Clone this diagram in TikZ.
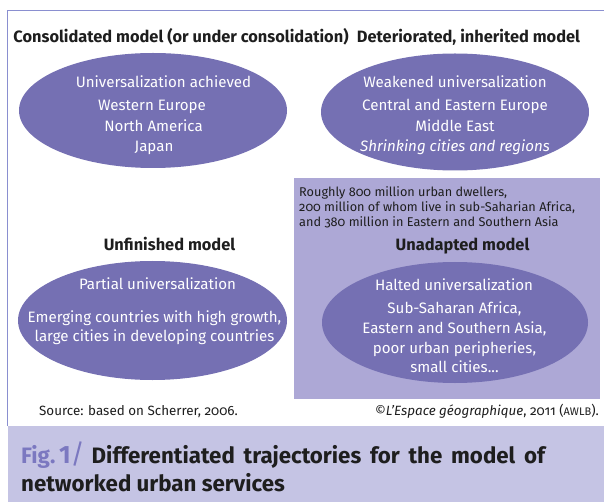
\documentclass[tikz,border=0pt]{standalone}
\usepackage{fontspec}
\setmainfont{Fira Sans}[Numbers=OldStyle]
\usetikzlibrary{shapes.geometric}
\definecolor{ellfill}{HTML}{7570B3}
\definecolor{boxfill}{HTML}{ADA8D6}
\definecolor{bandfill}{HTML}{C5C4E4}
\definecolor{frameline}{HTML}{8A8FD0}
\definecolor{figcol}{HTML}{7B78C0}
\definecolor{darktxt}{HTML}{1E1E1E}
\tikzset{
  ell/.style={ellipse, fill=ellfill, draw=none, inner sep=0pt},
  titletxt/.style={anchor=base, inner sep=0pt, font=\fontsize{16.4}{19}\selectfont\bfseries, text=darktxt},
  etxt/.style={anchor=base, inner sep=0pt, font=\fontsize{15.1}{18}\selectfont, text=white},
  notetxt/.style={anchor=base west, inner sep=0pt, font=\fontsize{12.7}{15}\selectfont, text=darktxt},
  srctxt/.style={anchor=base, inner sep=0pt, font=\fontsize{13.4}{16}\selectfont, text=darktxt},
  captxt/.style={anchor=base west, inner sep=0pt, font=\fontsize{22.3}{26}\selectfont\bfseries, text=darktxt},
}
\begin{document}
\begin{tikzpicture}[x=1pt,y=-1pt]
\useasboundingbox (0,0) rectangle (604,502);
% caption band
\fill[bandfill] (8,426) rectangle (604,502);
% frame
\draw[frameline, line width=1.2pt] (7.5,426) -- (7.5,10.5) -- (604,10.5);
% unadapted box
\fill[boxfill] (294,178) rectangle (600,399);
% ellipses
\node[ell, minimum width=268pt, minimum height=115pt] (e1) at (153,110.5) {};
\node[ell, minimum width=268pt, minimum height=117pt] (e2) at (455,112) {};
\node[ell, minimum width=269pt, minimum height=119pt] (e3) at (152.5,320.5) {};
\node[ell, minimum width=266pt, minimum height=121pt] (e4) at (455,322.5) {};
% titles
\node[titletxt] (t1) at (181,43) {Consolidated model (or under consolidation)};
\node[titletxt] (t2) at (468.5,43) {Deteriorated, inherited model};
\node[titletxt] (t3) at (169.5,251) {Unfinished model};
\node[titletxt] (t4) at (462.5,251) {Unadapted model};
% ellipse 1 text
\node[etxt] (a1) at (163.5,88) {Universalization achieved};
\node[etxt] (a2) at (152,111) {Western Europe};
\node[etxt] (a3) at (153.5,132) {North America};
\node[etxt] (a4) at (154,152) {Japan};
% ellipse 2 text
\node[etxt] (b1) at (455,88) {Weakened universalization};
\node[etxt] (b2) at (455,111) {Central and Eastern Europe};
\node[etxt] (b3) at (455,132) {Middle East};
\node[etxt] (b4) at (455,152) {\itshape Shrinking cities and regions};
% ellipse 3 text
\node[etxt] (c1) at (157.5,289) {Partial universalization};
\node[etxt] (c2) at (154.5,322) {Emerging countries with high growth,};
\node[etxt] (c3) at (154.5,341) {large cities in developing countries};
% ellipse 4 text
\node[etxt] (d1) at (454,290) {Halted universalization};
\node[etxt] (d2) at (454.5,313) {Sub-Saharan Africa,};
\node[etxt] (d3) at (454.5,333) {Eastern and Southern Asia,};
\node[etxt] (d4) at (454.5,353) {poor urban peripheries,};
\node[etxt] (d5) at (454.5,372) {small cities...};
% box note
\node[notetxt] (n1) at (299,197) {Roughly 800 million urban dwellers,};
\node[notetxt] (n2) at (299,212) {200 million of whom live in sub-Saharian Africa,};
\node[notetxt] (n3) at (299,227) {and 380 million in Eastern and Southern Asia};
% source
\node[srctxt] (s1) at (138.5,415) {Source: based on Scherrer, 2006.};
\node[srctxt, anchor=base east] (s2) at (599,415) {©\textit{L’Espace géographique}, 2011 ({\fontsize{11}{13}\selectfont AWLB}).};
% caption
\node[captxt] (f1) at (21,463) {{\color{figcol}Fig.\,{\fontsize{25}{26}\selectfont\addfontfeature{Numbers=Lining}1}}{\color{figcol}\mdseries\fontsize{27}{27}\selectfont/}\hspace{7pt}{\spaceskip=8.8pt plus 1pt Differentiated trajectories for the model of}};
\node[captxt] (f2) at (21,491) {networked urban services};
\end{tikzpicture}
\end{document}
